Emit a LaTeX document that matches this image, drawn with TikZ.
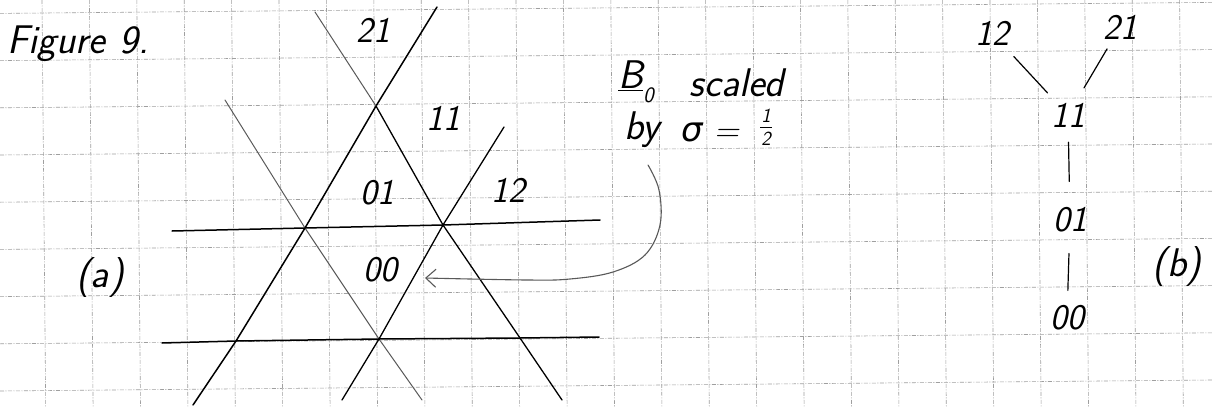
\documentclass[tikz,border=0pt]{standalone}
\usepackage{fontspec}
\newfontfamily\dvfont{DejaVu Sans}
\usetikzlibrary{arrows.meta}
\begin{document}
\begin{tikzpicture}[x=1pt,y=-1pt,
  gridline/.style={gray!75, line width=0.6pt, dash pattern=on 4pt off 1.5pt on 1pt off 1.5pt},
  ink/.style={black, line width=1.5pt, line cap=round, line join=round},
  faint/.style={black!65, line width=1pt, line cap=round, line join=round},
  treeline/.style={black, line width=1.2pt, line cap=round},
  hand/.style={font=\fontsize{36}{40}\selectfont\sffamily\slshape, inner sep=1pt},
  big/.style={font=\fontsize{40}{44}\selectfont\sffamily\slshape, inner sep=1pt},
  tiny/.style={font=\fontsize{20}{22}\selectfont\sffamily\slshape, inner sep=0pt},
]
\fill[white] (0,0) rectangle (1212,407);
\useasboundingbox (0,0) rectangle (1212,407);
\begin{scope}
\clip (0,0) rectangle (1212,407);
\foreach \k in {0,...,8} {\draw[gridline] (0,{13.4+47.2*\k}) -- (1212,{13.4+47.2*\k-11});}
\foreach \k in {0,...,24} {\draw[gridline] ({42+47.4*\k},0) -- ({42+47.4*\k+3.7},407);}
\end{scope}

% caption
\node[big, anchor=west] (fig) at (6,44) {Figure\hspace{14pt}9.};

% part (a): intersection points
\coordinate (p1) at (376,106);
\coordinate (p2) at (305,228);
\coordinate (p3) at (443,225);
\coordinate (p4) at (236,341);
\coordinate (p5) at (379,339);
\coordinate (p6) at (520,338);

\draw[ink] (193,405) -- (p4) -- (p2) -- (p1) -- (437,7);
\draw[faint] (315,12) -- (p1);
\draw[ink, line width=1.3pt] (p1) -- (p3) -- (p6) -- (562,400);
\draw[faint] (225,100) -- (p2) -- (p5) -- (422,400);
\draw[ink, line width=1.3pt] (342,400) -- (p5) -- (p3) -- (504,127);
\draw[ink] (172,231) -- (p2) -- (p3) -- (600,220);
\draw[ink] (162,343) -- (p4) -- (p5) -- (p6) -- (599,337);

\node[hand] (a21) at (373,30) {21};
\node[hand] (a11) at (443,118) {11};
\node[hand] (a01) at (377,193) {01};
\node[hand] (a12) at (508,190) {12};
\node[hand] (a00) at (380,270) {00};
\node[big] (alab) at (100,278) {(a)};

% annotation
\node[big] (bnull) at (636,82) {\underline{B}\raisebox{-14pt}{\fontsize{22}{24}\selectfont 0}};
\node[big] (scaled) at (737,83) {scaled};
\node[big] (by) at (642,130) {by};
\node[big, font=\fontsize{34}{38}\selectfont\sffamily\slshape, anchor=west] (sig) at (680,132)
  {{\dvfont\itshape σ}\hspace{12pt}=};
\node[tiny] (fnum) at (766,116) {1};
\node[tiny] (fden) at (766,139) {2};
\draw[black, line width=0.9pt] (760,127.5) -- (772,127.5);
\coordinate (arrs) at (648,165);
\coordinate (arre) at (425,278);
\draw[faint, line width=1.1pt, -{Straight Barb[length=10pt,width=18pt]}]
  plot[smooth, tension=0.6] coordinates {(648,165) (659,190) (660,225) (645,255) (613,272) (570,279) (527,280) (425,278)};

% part (b)
\node[hand] (b12) at (992,33) {12};
\node[hand] (b21) at (1120,27) {21};
\node[hand] (b11) at (1068,115) {11};
\node[hand] (b01) at (1070,220) {01};
\node[hand] (b00) at (1067,318) {00};
\node[big] (blab) at (1177,267) {(b)};
\draw[treeline, shorten <=14pt, shorten >=12pt] (b12) -- (b11);
\draw[treeline, shorten <=10pt, shorten >=16pt] (b21) -- (b11);
\draw[treeline, shorten <=14pt, shorten >=25pt] (b11) -- (b01);
\draw[treeline, shorten <=20pt, shorten >=14pt] (b01) -- (b00);
\end{tikzpicture}
\end{document}
